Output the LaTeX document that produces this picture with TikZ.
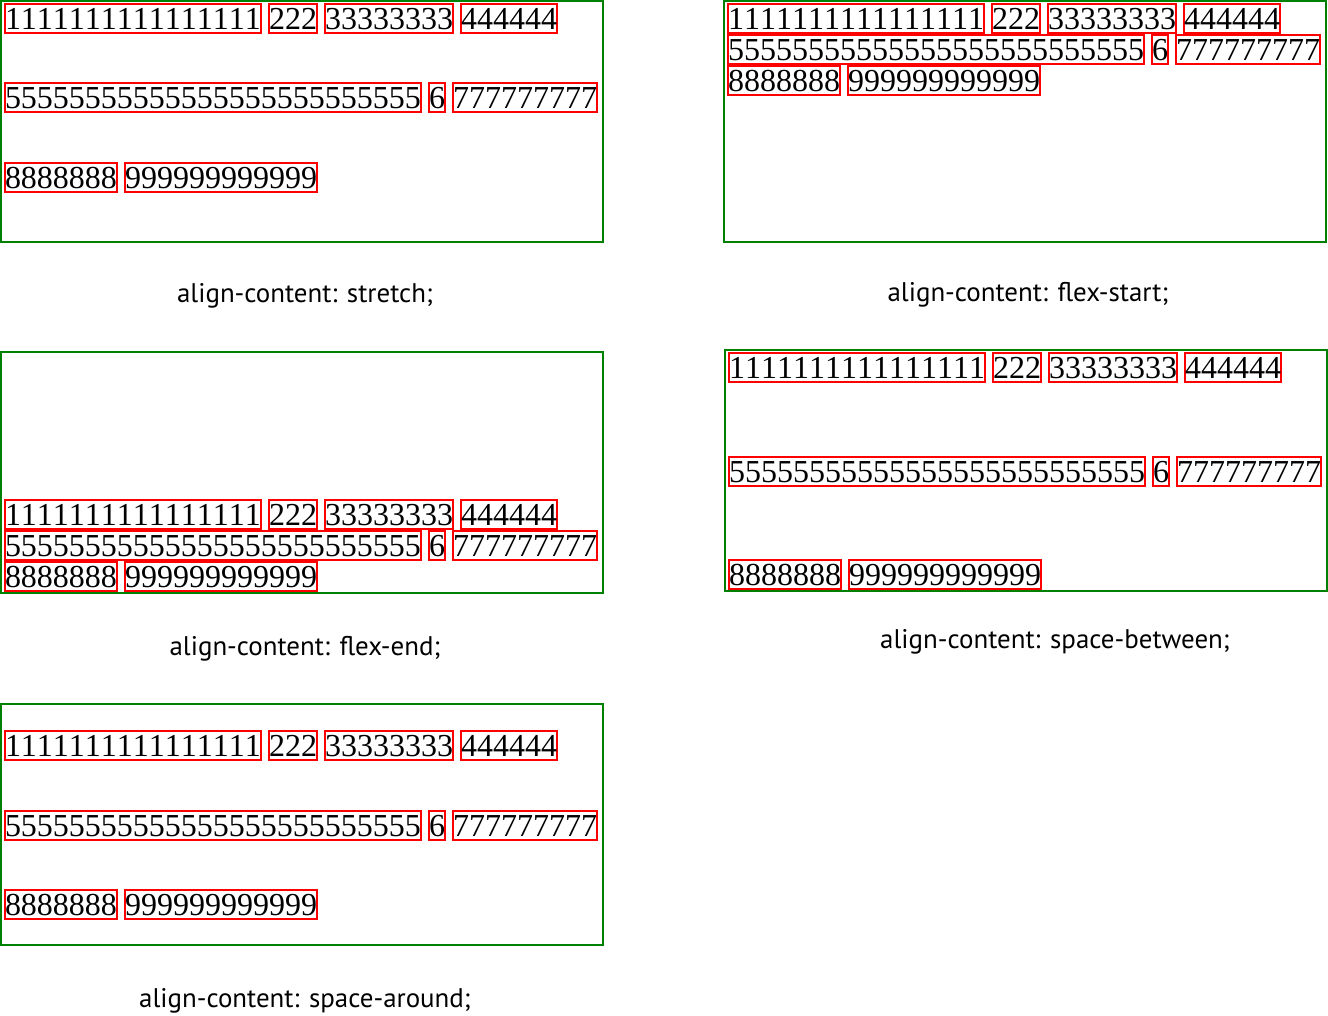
\documentclass[tikz,border=0pt]{standalone}
\usepackage{fontspec}
\setmainfont{Liberation Serif}[Kerning=Off]
\newfontfamily\capfont{PT Sans}
\usetikzlibrary{positioning}
\definecolor{boxgreen}{RGB}{0,128,0}
\definecolor{itemred}{RGB}{255,0,0}
\tikzset{
  panel/.style={draw=boxgreen, line width=1.5pt},
  item/.style={draw=itemred, line width=1.5pt, inner xsep=0pt, inner ysep=0pt,
    text height=19.3pt, text depth=2.4pt, font=\fontsize{24pt}{24pt}\selectfont},
  caption/.style={inner sep=0pt, font=\capfont\fontsize{20.2pt}{22pt}\selectfont},
}
% #1 name, #2 panel x, #3 panel y, #4/#5/#6 top of each row
\newcommand{\flexpanel}[6]{%
  \draw[panel] (#2,#3) rectangle ++(602,241);
  \node[item, anchor=north west] (#1a) at (#2+3,#4) {1111111111111111};
  \node[item, right=of #1a] (#1b) {222};
  \node[item, right=of #1b] (#1c) {33333333};
  \node[item, right=of #1c] (#1d) {444444};
  \node[item, anchor=north west] (#1e) at (#2+3,#5) {55555555555555555555555555};
  \node[item, right=of #1e] (#1f) {6};
  \node[item, right=of #1f] (#1g) {777777777};
  \node[item, anchor=north west] (#1h) at (#2+3,#6) {8888888};
  \node[item, right=of #1h] (#1i) {999999999999};
}
\begin{document}
\begin{tikzpicture}[x=0.75pt, y=-0.75pt, node distance=4.5pt]
  \useasboundingbox (0,0) rectangle (1328,1015);
  % stretch
  \flexpanel{st}{1}{1}{3}{82}{162}
  \node[caption] (stcap) at (305,296) {align-content: stretch;};
  % flex-start
  \flexpanel{fs}{724}{1}{3}{34}{65}
  \node[caption] (fscap) at (1028,295) {align-content: flex-start;};
  % flex-end
  \flexpanel{fe}{1}{352}{499}{530}{561}
  \node[caption] (fecap) at (305,649) {align-content: flex-end;};
  % space-between
  \flexpanel{sb}{725}{350}{352}{456}{559}
  \node[caption] (sbcap) at (1055,642) {align-content: space-between;};
  % space-around
  \flexpanel{sa}{1}{704}{730}{810}{889}
  \node[caption] (sacap) at (305,1001) {align-content: space-around;};
\end{tikzpicture}
\end{document}
